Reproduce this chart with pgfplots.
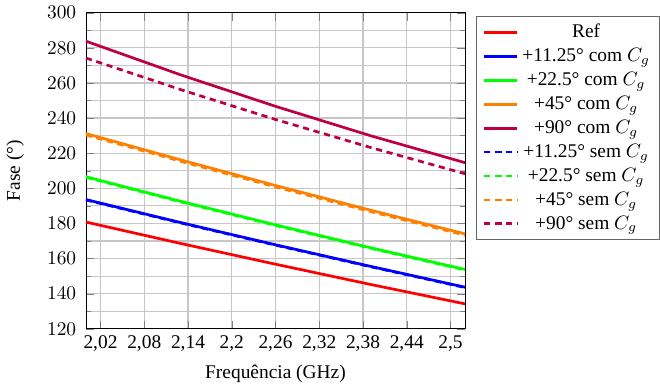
\documentclass[border=0pt]{standalone}
\usepackage{fontspec}
\setmainfont{Liberation Serif}
\usepackage{pgfplots}
\pgfplotsset{compat=1.18}
\definecolor{cRed}{rgb}{1,0,0}
\definecolor{cBlue}{rgb}{0,0,1}
\definecolor{cGreen}{rgb}{0,1,0}
\definecolor{cOrange}{rgb}{1,0.5,0}
\definecolor{cPurple}{rgb}{0.75,0,0.25}
\begin{document}
\begin{tikzpicture}
\begin{axis}[
  scale only axis,
  width=195.5pt, height=163pt,
  xmin=2.0, xmax=2.52,
  ymin=120, ymax=300,
  xtick={2.02,2.08,2.14,2.2,2.26,2.32,2.38,2.44,2.5},
  xticklabels={2{,}02,2{,}08,2{,}14,2{,}2,2{,}26,2{,}32,2{,}38,2{,}44,2{,}5},
  ytick={120,140,...,300},
  minor y tick num=1,
  grid=both,
  major grid style={gray!45, line width=0.6pt},
  minor grid style={gray!45, line width=0.6pt},
  xlabel={Frequência (GHz)},
  ylabel={Fase (°)},
  ylabel shift=5pt,
  yticklabel shift=1.5pt,
  legend style={at={(1.03,0.99)}, anchor=north west, draw=black!60, font=\normalsize},
  legend cell align=center,
  every axis plot/.append style={line width=1.4pt},
]
\addplot[cRed] coordinates {(2.0,180.8) (2.13,168.6) (2.26,156.8) (2.39,145.3) (2.52,134.2)};
\addlegendentry{Ref}
\addplot[cBlue] coordinates {(2.0,193.6) (2.13,180.5) (2.26,167.85) (2.39,155.6) (2.52,143.7)};
\addlegendentry{+11.25° com $C_g$}
\addplot[cGreen] coordinates {(2.0,206.6) (2.13,192.6) (2.26,179.2) (2.39,166.2) (2.52,153.8)};
\addlegendentry{+22.5° com $C_g$}
\addplot[cOrange] coordinates {(2.0,231.2) (2.13,216.2) (2.26,201.6) (2.39,187.6) (2.52,174.1)};
\addlegendentry{+45° com $C_g$}
\addplot[cPurple] coordinates {(2.0,283.8) (2.13,264.6) (2.26,246.7) (2.39,230.0) (2.52,214.6)};
\addlegendentry{+90° com $C_g$}
\addplot[cBlue, dash pattern=on 3.2pt off 2.4pt] coordinates {(2.0,193.4) (2.13,180.3) (2.26,167.65) (2.39,155.4) (2.52,143.5)};
\addlegendentry{+11.25° sem $C_g$}
\addplot[cGreen, dash pattern=on 3.2pt off 2.4pt] coordinates {(2.0,206.3) (2.13,192.3) (2.26,178.9) (2.39,165.9) (2.52,153.5)};
\addlegendentry{+22.5° sem $C_g$}
\addplot[cOrange, dash pattern=on 3.2pt off 2.4pt] coordinates {(2.0,230.4) (2.13,215.4) (2.26,200.8) (2.39,186.8) (2.52,173.3)};
\addlegendentry{+45° sem $C_g$}
\addplot[cPurple, dash pattern=on 3.2pt off 2.4pt] coordinates {(2.0,274.2) (2.13,256.2) (2.26,239.2) (2.39,223.3) (2.52,208.3)};
\addlegendentry{+90° sem $C_g$}
\end{axis}
\end{tikzpicture}
\end{document}
